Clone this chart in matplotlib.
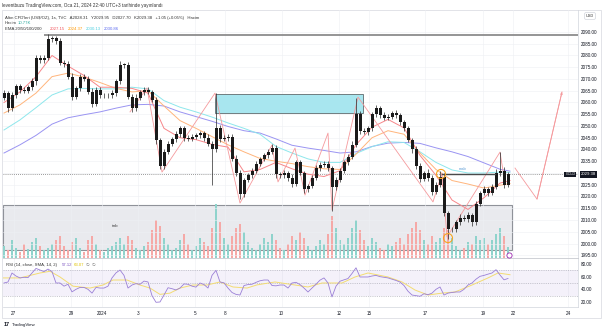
import matplotlib
matplotlib.use('Agg')
import matplotlib.pyplot as plt
from matplotlib.patches import Rectangle

plt.rcParams['font.family'] = ['Liberation Sans', 'DejaVu Sans']

W, H = 605, 332

# ── DATA (one candle ≈ 3 hourly bars) ───────────────────────────────────
first_open = 2062.0
closes = [2064, 2057.5, 2063, 2067, 2065.3, 2065, 2066.5, 2069, 2079, 2078,
          2079, 2087, 2087.5, 2086, 2077, 2076.5, 2071, 2062.5, 2066, 2071,
          2070, 2064.5, 2059.5, 2065.5, 2063, 2063, 2063, 2064, 2069, 2076,
          2076, 2062.5, 2057.5, 2062, 2064.5, 2065.5, 2064.5, 2061, 2044, 2033,
          2039, 2042.5, 2044.5, 2046.5, 2049, 2045, 2044.5, 2045.5, 2046, 2047,
          2045, 2042.5, 2040, 2049, 2044.5, 2045, 2045.5, 2036, 2030, 2021,
          2027, 2029, 2031, 2034, 2036, 2037.5, 2039, 2040.5, 2029.5, 2029,
          2030, 2028, 2025.5, 2034.5, 2030, 2023, 2024.5, 2028, 2032, 2033.5,
          2034, 2032, 2024, 2027, 2031, 2034.5, 2037, 2042, 2055, 2048,
          2047.5, 2049, 2055, 2057.5, 2054.7, 2053.5, 2054, 2055.5, 2054.5, 2051.5,
          2049, 2044, 2040, 2033, 2027.5, 2030, 2028, 2022, 2025, 2028.5,
          2013, 2006, 2006, 2009, 2011, 2010.5, 2012, 2009, 2017, 2021.5,
          2023, 2021.5, 2024, 2030, 2031, 2025, 2029.38]
wick_up = [1.5, 1, 1.5, 1, 1, 1.2, 1, 1.5, 1, 1,
           1.2, 2, 1, 1, 1.5, 1, 1.2, 1.5, 1, 1,
           1, 1.2, 1.5, 1, 1, 1, 1, 1.2, 1, 1.5,
           1, 1.2, 1, 1.5, 1, 1, 1.2, 1, 1.5, 1,
           1, 1.2, 1, 1.5, 1.2, 1, 1, 1.2, 1, 1,
           1, 1.5, 1, 15, 1.5, 1, 1.2, 1, 1.5, 1.2,
           1, 1.2, 1, 1.2, 1, 1, 1.2, 2, 1.5, 1,
           1.2, 1, 1.5, 1, 1.2, 1, 1, 1, 1.2, 1,
           1, 1.2, 1, 1.5, 1, 1.2, 1, 1.5, 7, 1.5,
           1.2, 1, 1, 1.5, 1, 1.2, 1, 1, 1.2, 1,
           1, 1.2, 1, 1.5, 1.2, 1, 1.5, 1, 1.2, 2.5,
           1.5, 1, 1.2, 1, 1.5, 1, 1.2, 1, 1.2, 1,
           1.5, 1, 1.2, 1.5, 8, 1.5, 1]
wick_dn = [1, 1.5, 1, 1, 1.2, 1, 1, 1, 1.5, 1,
           1, 1, 1.2, 1, 1, 1.5, 1, 1.5, 1, 1.2,
           1, 1, 1.5, 1, 1.2, 1, 1, 1, 1.2, 1,
           1.2, 1, 1.5, 1, 1, 1.2, 1, 1, 1.5, 1.5,
           1.2, 1, 1, 1.2, 1, 1.5, 1, 1, 1.2, 1,
           1.2, 1, 15, 1, 1.2, 1, 1.5, 1, 1.2, 2,
           1.2, 1, 1, 1.2, 1, 1, 1.2, 1, 1.5, 1,
           1, 1.2, 1.5, 1, 1, 1.5, 1.2, 1, 1, 1.2,
           1, 1, 10, 1.2, 1, 1, 1.2, 1, 1, 1.5,
           1, 1.2, 1, 1, 1.2, 1, 1, 1.2, 1, 1,
           1.2, 1, 1.5, 1.2, 1.5, 1, 1.2, 1.5, 1, 1,
           1.5, 4, 1.2, 1, 1.2, 1, 1.5, 1.5, 1, 1.2,
           1, 1.2, 1, 1, 1.2, 1.5, 1]
volume = [12, 8, 18, 10, 6, 14, 9, 16, 20, 12, 8,
          10, 14, 18, 22, 12, 8, 16, 20, 10, 6,
          18, 22, 14, 8, 6, 10, 12, 16, 20, 14,
          22, 18, 10, 8, 12, 16, 28, 38, 32, 20,
          14, 8, 10, 18, 24, 14, 8, 12, 20, 16,
          12, 30, 54, 36, 20, 14, 22, 30, 34, 26,
          16, 10, 8, 14, 20, 16, 24, 18, 10, 8,
          14, 22, 18, 26, 20, 12, 8, 12, 18, 14,
          24, 42, 30, 18, 14, 20, 30, 38, 28, 18,
          12, 20, 16, 10, 8, 14, 12, 16, 20, 14,
          24, 30, 36, 28, 18, 14, 22, 16, 20, 30,
          28, 20, 12, 8, 10, 16, 14, 22, 18, 20,
          14, 18, 24, 30, 22, 11]

ema_x = [0, 4, 8, 12, 16, 20, 24, 28, 32, 36, 40, 44, 48, 52, 56, 60, 64,
         68, 72, 76, 80, 84, 88, 92, 96, 100, 104, 108, 112, 116, 120, 124, 126.5]
ema20 = [2060, 2064.5, 2071, 2080, 2075.5, 2071.5, 2066.5, 2066.5, 2066, 2064,
         2049, 2045, 2044.2, 2042.2, 2041, 2030.5, 2031.5, 2034.5, 2031.8, 2029.5,
         2028.5, 2031, 2042, 2049.5, 2052.8, 2049.2, 2037.5, 2029, 2018.5, 2014.5,
         2019.5, 2025.7, 2026.8]
ema50 = [2055.5, 2059, 2064, 2071, 2072.5, 2070.8, 2068.5, 2066, 2064.5, 2065,
         2058.5, 2052.3, 2049, 2045.5, 2042, 2039, 2036.2, 2035, 2034, 2032.7,
         2031.8, 2031.5, 2038, 2045, 2048, 2046.5, 2038.5, 2031.5, 2026.8, 2025.3,
         2023.6, 2024.8, 2025.5]
ema100 = [2048.3, 2052.6, 2057.8, 2063.2, 2065.8, 2066, 2065.8, 2065.8, 2066.5, 2065.8,
          2060.8, 2058, 2056, 2053.8, 2051.3, 2049, 2046.5, 2041.3, 2038.5, 2036,
          2034.5, 2034.5, 2038.3, 2041.2, 2043.3, 2043, 2039, 2034.5, 2031.3, 2030,
          2030, 2030.4, 2030.3]
ema200 = [2038.5, 2042, 2046, 2050.8, 2053.5, 2054.8, 2056, 2057.6, 2059, 2059.2,
          2058.5, 2056, 2054, 2052, 2049.8, 2048, 2047, 2044.5, 2041.8, 2040.6,
          2039.6, 2038.5, 2039, 2041.3, 2042.7, 2043, 2042.6, 2040.7, 2039, 2037,
          2034.3, 2031.6, 2030.8]

rsi = [50, 51.6, 65.8, 61, 58, 59, 58.5, 65.8, 73, 70.5,
       68, 72, 68, 50, 50, 45, 48, 36, 40, 43,
       43, 40, 34, 43, 42, 42, 45, 58, 66, 70.5,
       62, 42, 46.8, 49, 48, 53, 51.6, 30, 19.5, 20,
       31, 42.5, 41, 39, 42, 48.5, 48, 45, 43.5, 50,
       47.5, 42, 62, 70, 51.6, 50.3, 42, 35, 32, 31,
       46, 47.5, 48, 51, 53.5, 54.7, 54.7, 46, 45.5, 46.8,
       46.8, 42, 50, 51, 47.5, 42, 35.8, 42, 48, 54.5,
       58, 50, 28, 45, 52.8, 55, 57, 65, 74, 59.5,
       59.5, 59.5, 61, 62, 60, 59, 58, 56, 54, 51.5,
       46, 37, 31, 30, 29, 33, 31.5, 34, 40, 43.7,
       31, 34, 35, 35.8, 35.8, 40, 46.8, 50, 56, 60.5,
       62, 64, 65.8, 71, 62.6, 55, 57.12]
rsi_ma_x = [-0.25, 4, 9, 11.5, 14, 17.25, 21.5, 24.75, 27.25, 30.75, 34, 36.5, 39,
            41.5, 44, 47.25, 50.75, 54, 57.25, 60.75, 63.25, 67.75, 72.75, 76,
            79.5, 84.5, 87.75, 91, 96, 99.5, 102.75, 106, 109.5, 112.75, 117, 121,
            123.5, 126.5]
rsi_ma = [58, 58, 65.8, 68.5, 59.5, 45, 42, 46.8, 54.7, 54.7, 46.8, 42, 32,
          34, 42, 46.8, 46.8, 51.6, 43.7, 42, 47, 51.6, 46.8, 43.7,
          50, 50, 59.5, 65.8, 59.5, 51.6, 38.9, 31, 34, 35.8, 46.8, 58,
          65.8, 63.07]

zz_x = [31.5, 35.75, 39.5, 52.75, 59, 67, 68.5, 72.75, 75.25, 81, 82, 88.5,
        107.25, 109.5, 110.75, 124, 125.25]
zz_y = [2056.0, 2066.2, 2030.4, 2064.0, 2017.2, 2041.9, 2026.2, 2040.6, 2020.6,
        2047.0, 2014.3, 2062.3, 2017.7, 2030.0, 2002.8, 2038.9, 2025.7]
proj_x = [127.75, 133.25, 139.5]
proj_y = [2032.1, 2018.9, 2064.5]

tick_pos = [2.4, 16.75, 24.4, 33.4, 47.75, 55.25, 69.4, 83.75, 91.25, 105.25,
            119.75, 127.25, 141]
tick_lbl = ['27', '29', '2024', '3', '5', '8', '10', '12', '15', '17', '19', '22', '24']

last_price = 2029.38

# ── FIGURE / PANES ───────────────────────────────────────────────────
fig = plt.figure(figsize=(W / 100, H / 100), dpi=100)
fig.patch.set_facecolor('white')


def box(x0, y0, x1, y1):
    return [x0 / W, 1 - y1 / H, (x1 - x0) / W, (y1 - y0) / H]


ax = fig.add_axes(box(3, 10, 578, 258))
vax = ax.twinx()
rax = fig.add_axes(box(3, 258, 578, 307), sharex=ax)
ax.set_zorder(2)
vax.set_zorder(1)
ax.patch.set_visible(False)
vax.axis('off')

n = len(closes)
xs = list(range(n))
opens = [first_open] + closes[:-1]
highs = [max(o, c) + u for o, c, u in zip(opens, closes, wick_up)]
lows = [min(o, c) - d for o, c, d in zip(opens, closes, wick_dn)]

ax.set_xlim(-0.25, 143.5)
ax.set_ylim(1993.83, 2099.36)
vax.set_ylim(0, 248)
rax.set_ylim(12.07, 89.48)

# grid
grid_c = '#eef0f4'
for p in range(1995, 2095, 5):
    ax.axhline(p, color=grid_c, lw=0.4, zorder=0)
for t in tick_pos:
    ax.axvline(t, color=grid_c, lw=0.4, zorder=0)
    rax.axvline(t, color=grid_c, lw=0.4, zorder=0)

# imbalance box + volume
vax.add_patch(Rectangle((-0.25, 1997.2), 127.25, 19.2, transform=ax.transData,
                        facecolor='#e9eaee', edgecolor='#8f9299', lw=0.8, zorder=0))
vcol = ['#8fd3cc' if c >= o else '#f5a9a7' for o, c in zip(opens, closes)]
vax.bar(xs, volume, width=0.5, color=vcol, zorder=1)

# current price dotted line
ax.axhline(last_price, color='#7a7a7a', lw=0.6, ls=(0, (1, 1.5)), zorder=1)

# top line
ax.plot([10, 143.75], [2088.9, 2088.9], color='#8c8c8c', lw=1.3, zorder=2,
        solid_capstyle='butt')

# supply box
ax.add_patch(Rectangle((52.75, 2055.4), 37, 8.2, facecolor='#a8e6ef',
                       edgecolor='#6f7d80', lw=0.7, zorder=1))

# EMAs
ax.plot(ema_x, ema200, color='#9a94f2', lw=0.7, zorder=2)
ax.plot(ema_x, ema100, color='#8ee7ec', lw=0.7, zorder=2)
ax.plot(ema_x, ema50, color='#ffb57c', lw=0.7, zorder=2)
ax.plot(ema_x, ema20, color='#f7868a', lw=0.7, zorder=2)

# zigzag + projection
ax.plot(zz_x, zz_y, color='#f59a9d', lw=0.6, zorder=3)
ax.plot(proj_x, proj_y, color='#f59a9d', lw=0.6, zorder=3)
ax.annotate('', xy=(proj_x[-1], proj_y[-1]), xytext=(proj_x[-2], proj_y[-2]),
            arrowprops=dict(arrowstyle='-|>', color='#f59a9d', lw=0.6,
                            mutation_scale=3, shrinkA=0, shrinkB=0), zorder=3)

# candles
ax.vlines(xs, lows, highs, color='#2a2a2a', lw=0.5, zorder=4)
bot = [min(o, c) for o, c in zip(opens, closes)]
hgt = [max(abs(c - o), 0.3) for o, c in zip(opens, closes)]
ax.bar(xs, hgt, bottom=bot, width=0.75, color='#1b1b1b', zorder=5)

# msb
ax.plot([109.5, 122.75], [2029.6, 2029.6], color='#4a4a4a', lw=1.0, zorder=6)
ax.text(114.75, 2031.6, 'msb', color='#5b9bd5', fontsize=3, ha='center',
        va='center', zorder=6)
ax.text(27.75, 2007.4, 'imb', color='#333333', fontsize=3, ha='center',
        va='center', zorder=6)

# markers
ax.scatter([109.25, 111], [2029.6, 2002.3], s=42, facecolor='none',
           edgecolor='#f5a623', lw=0.8, zorder=7)
ax.scatter([126.25], [1995.1], s=14, facecolor='white', edgecolor='#9c27b0',
           lw=0.6, zorder=7, clip_on=False)

# price axis
ax.yaxis.tick_right()
ax.set_yticks(range(1995, 2095, 5))
ax.set_yticklabels([f'{p:.2f}' for p in range(1995, 2095, 5)])
ax.tick_params(axis='y', length=0, pad=2.2, labelsize=3.3, labelcolor='#131722')
ax.tick_params(axis='x', length=0, labelbottom=False)
for s in ['top', 'left']:
    ax.spines[s].set_visible(False)
ax.spines['right'].set_color('#d1d4dc')
ax.spines['bottom'].set_color('#c8cad0')
ax.spines['right'].set_linewidth(0.5)
ax.spines['bottom'].set_linewidth(0.6)

ax.text(141.6, last_price, 'GOLD', color='white', fontsize=2.6, ha='center',
        va='center', zorder=8,
        bbox=dict(boxstyle='square,pad=0.25', fc='#131722', ec='none'))
ax.text(1 + 3 / 575, last_price, f'{last_price:.2f}', color='white', fontsize=3.1,
        ha='left', va='center', transform=ax.get_yaxis_transform(),
        clip_on=False, zorder=8,
        bbox=dict(boxstyle='square,pad=0.25', fc='#131722', ec='none'))

# ── RSI pane ─────────────────────────────────────────────────────────
rax.axhspan(30, 70, color='#7e57c2', alpha=0.08, lw=0)
for lvl in (70, 50, 30):
    rax.axhline(lvl, color='#a0a0ac', lw=0.4, ls=(0, (2, 2)))
rax.plot(rsi_ma_x, rsi_ma, color='#f3dc72', lw=0.7)
rax.plot(xs, rsi, color='#9a7fd6', lw=0.6)
rax.yaxis.tick_right()
rax.set_yticks([20, 40, 60, 80])
rax.set_yticklabels(['20.00', '40.00', '60.00', '80.00'])
rax.tick_params(axis='y', length=0, pad=2.2, labelsize=3.3, labelcolor='#131722')
rax.set_xticks(tick_pos)
rax.set_xticklabels(tick_lbl)
rax.tick_params(axis='x', length=0, pad=3, labelsize=3.3, labelcolor='#131722')
for s in ['top', 'left']:
    rax.spines[s].set_visible(False)
rax.spines['right'].set_color('#d1d4dc')
rax.spines['bottom'].set_color('#d1d4dc')
rax.spines['right'].set_linewidth(0.5)
rax.spines['bottom'].set_linewidth(0.5)

# ── texts ────────────────────────────────────────────────────────────
def ftext(x, y, s, **kw):
    kw.setdefault('fontsize', 3.1)
    kw.setdefault('color', '#333333')
    fig.text(x / W, 1 - y / H, s, va='center', ha='left', **kw)


ftext(2, 5.5, 'leventbuzu TradingView.com, Oca 21, 2024 22:40 UTC+3 tarihinde yayınlandı',
      fontsize=3.35)
ftext(5, 17.5, "Altın CFD'leri (US$/OZ), 1s, TVC   A2028.31   Y2029.95   D2027.70"
               "   K2029.38   +1.05 (+0.05%)   Hacim", fontsize=3.05)
ftext(5, 23, 'Hacim', fontsize=3.05)
ftext(18, 23, '10.77K', fontsize=3.05, color='#26a69a')
ftext(5, 28.5, 'EMA 20/50/100/200', fontsize=3.05)
ftext(50, 28.5, '2027.15', fontsize=3.05, color='#f2545b')
ftext(68, 28.5, '2024.37', fontsize=3.05, color='#ff9800')
ftext(86, 28.5, '2030.13', fontsize=3.05, color='#4dd0e1')
ftext(104, 28.5, '2030.86', fontsize=3.05, color='#5c6bf0')
ftext(6, 265, 'RSI (14, close, SMA, 14, 2)', fontsize=3.05)
ftext(62, 265, '57.12', fontsize=3.05, color='#7e57c2')
ftext(74, 265, '63.07', fontsize=3.05, color='#e0c200')
ftext(86, 265, '∅  ∅', fontsize=3.05, color='#666666')
ftext(4, 325, '17', fontsize=4, fontweight='bold', color='#131722')
ftext(12, 325, 'TradingView', fontsize=3.2, color='#131722')

fig.text(590 / W, 1 - 16 / H, 'USD', fontsize=2.8, ha='center', va='center',
         color='#333333',
         bbox=dict(boxstyle='round,pad=0.35', fc='white', ec='#d1d4dc', lw=0.5))

# frame around the chart
fig.add_artist(Rectangle((2 / W, 1 - 318 / H), 599 / W, 308 / H,
                         transform=fig.transFigure, fill=False,
                         ec='#d6d8de', lw=0.5))

plt.savefig('out.png', dpi=100)
